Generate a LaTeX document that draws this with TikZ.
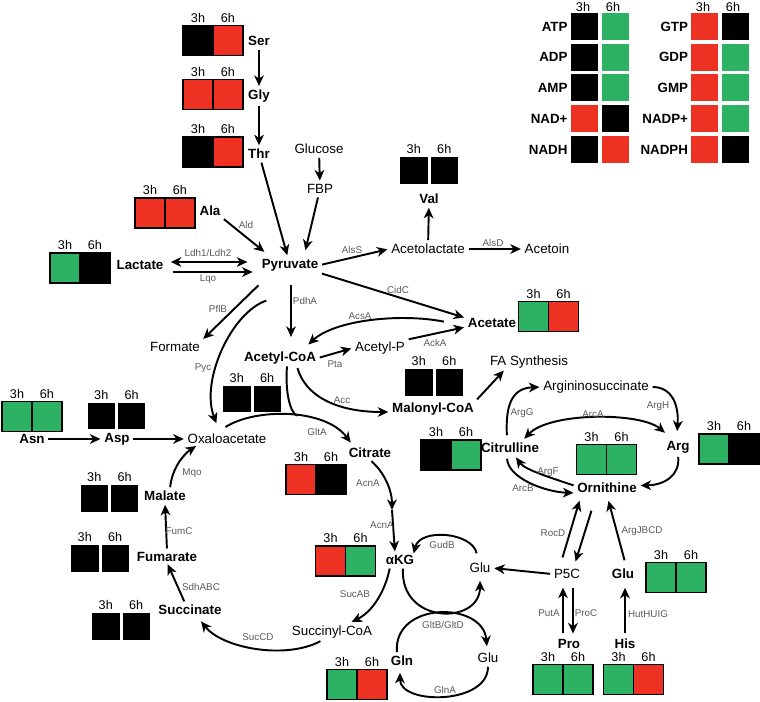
\documentclass[tikz,border=0pt]{standalone}
\usepackage{fontspec}
\setmainfont{Liberation Sans}
\usetikzlibrary{arrows.meta, calc, positioning}

\definecolor{hred}{RGB}{237,50,36}
\definecolor{hgreen}{RGB}{44,178,98}
\definecolor{enzgray}{RGB}{90,90,90}

\tikzset{
  met/.style={font=\fontsize{7.6}{9}\selectfont\bfseries, inner sep=1pt},
  metr/.style={font=\fontsize{7.6}{9}\selectfont, inner sep=1pt},
  enz/.style={font=\fontsize{5.6}{6.5}\selectfont, text=enzgray, inner sep=0.5pt},
  tlab/.style={font=\fontsize{7.2}{8}\selectfont, inner sep=1pt},
  cell/.style={draw=black, line width=1pt, minimum width=0.6cm, minimum height=0.6cm, inner sep=0pt, outer sep=0pt},
  splitcell/.style={minimum width=0.55cm, minimum height=0.54cm, inner sep=0pt, outer xsep=0.03cm, outer ysep=0pt},
  ncell/.style={minimum size=0.54cm, inner sep=0pt, outer sep=0pt},
  rxn/.style={->, line width=1.1pt, shorten >=1pt, shorten <=1pt},
}

% two-cell heat box: [style]{name}{(divider point)}{3h colour}{6h colour}
\newcommand{\heatpair}[5][cell]{%
  \node[#1, fill=#4, anchor=east] (#2-3h) at #3 {};
  \node[#1, fill=#5, anchor=west] (#2-6h) at #3 {};
  \node[tlab, above=0.5pt of #2-3h] (#2-t3) {3h};
  \node[tlab, above=0.5pt of #2-6h] (#2-t6) {6h};}

\begin{document}
\begin{tikzpicture}[x=0.02cm, y=-0.02cm, >={Stealth[length=6pt,width=5.5pt,inset=1.8pt]}]
  \useasboundingbox (0,0) rectangle (760,702);

  % Nucleotide table
  \node[tlab] (nh1) at (583,7) {3h};
  \node[tlab] (nh2) at (613,7) {6h};
  \node[tlab] (nh3) at (703,7) {3h};
  \node[tlab] (nh4) at (733,7) {6h};
  \foreach \lab/\ca/\cb [count=\i] in {ATP/black/hgreen, ADP/black/hgreen, AMP/black/hgreen, NAD+/hred/black, NADH/black/hred} {
    \node[ncell, fill=\ca] (na\i) at (584,{26.5+30.75*(\i-1)}) {};
    \node[ncell, fill=\cb] (nb\i) at (615,{26.5+30.75*(\i-1)}) {};
    \node[met, left=0.5pt of na\i] (nl\i) {\lab};
  }
  \foreach \lab/\ca/\cb [count=\i] in {GTP/hred/black, GDP/hred/hgreen, GMP/hred/hgreen, NADP+/hred/hgreen, NADPH/hred/black} {
    \node[ncell, fill=\ca] (ga\i) at (704.5,{26.5+30.75*(\i-1)}) {};
    \node[ncell, fill=\cb] (gb\i) at (735.5,{26.5+30.75*(\i-1)}) {};
    \node[met, left=0.5pt of ga\i] (gl\i) {\lab};
  }

  % Metabolites
  \node[met] (ser) at (259,41) {Ser};
  \node[met] (gly) at (259,96) {Gly};
  \node[met] (thr) at (259,154) {Thr};
  \node[metr] (glc) at (319,149) {Glucose};
  \node[metr] (fbp) at (320,189) {FBP};
  \node[met] (ala) at (210,211) {Ala};
  \node[met] (val) at (429,199) {Val};
  \node[met] (pyr) at (290,265) {Pyruvate};
  \node[met] (lac) at (140,265) {Lactate};
  \node[metr] (acl) at (428,249) {Acetolactate};
  \node[metr] (acn) at (547,249) {Acetoin};
  \node[met] (ace) at (492,323) {Acetate};
  \node[metr] (frm) at (175,347) {Formate};
  \node[met] (acoa) at (280,358) {Acetyl-CoA};
  \node[metr] (acp) at (380,348) {Acetyl-P};
  \node[met] (mal) at (433,409) {Malonyl-CoA};
  \node[metr] (fas) at (529,362) {FA Synthesis};
  \node[met] (asn) at (32,439) {Asn};
  \node[met] (asp) at (117,439) {Asp};
  \node[metr] (oaa) at (227,439) {Oxaloacetate};
  \node[met] (cit) at (370,453) {Citrate};
  \node[met] (malt) at (165,496) {Malate};
  \node[met] (fum) at (167,557) {Fumarate};
  \node[met] (suc) at (190,610) {Succinate};
  \node[metr] (scoa) at (332,632) {Succinyl-CoA};
  \node[met] (akg) at (400,560) {αKG};
  \node[metr] (glu1) at (480,568) {Glu};
  \node[metr] (glu2) at (488,658) {Glu};
  \node[met] (gln) at (402,661) {Gln};
  \node[metr] (asuc) at (596,387) {Argininosuccinate};
  \node[met] (ctl) at (510,448) {Citrulline};
  \node[met] (arg) at (678,447) {Arg};
  \node[met] (orn) at (607,488) {Ornithine};
  \node[metr] (p5c) at (567,574) {P5C};
  \node[met] (glu3) at (623,574) {Glu};
  \node[met] (pro) at (569,644) {Pro};
  \node[met] (his) at (625,644) {His};

  % Heat boxes
  \heatpair{ser}{(213,40.5)}{black}{hred}
  \heatpair{gly}{(213,94.5)}{hred}{hred}
  \heatpair{thr}{(213,152)}{black}{hred}
  \heatpair{ala}{(165,213)}{hred}{hred}
  \heatpair[splitcell]{val}{(429,170.5)}{black}{black}
  \heatpair{lac}{(80,268)}{hgreen}{black}
  \heatpair{ace}{(548.5,316.5)}{hgreen}{hred}
  \heatpair[splitcell]{acoa}{(252,399)}{black}{black}
  \heatpair[splitcell]{mal}{(434,382.5)}{black}{black}
  \heatpair{asn}{(32,416.5)}{hgreen}{hgreen}
  \heatpair[splitcell]{asp}{(116.5,416)}{black}{black}
  \heatpair{cit}{(316,479.5)}{hred}{black}
  \heatpair{ctl}{(451,455)}{black}{hgreen}
  \heatpair{orn}{(606.5,459.5)}{hgreen}{hgreen}
  \heatpair{arg}{(729,449)}{hgreen}{black}
  \heatpair[splitcell]{malt}{(109.5,498)}{black}{black}
  \heatpair[splitcell]{fum}{(100,558.5)}{black}{black}
  \heatpair[splitcell]{suc}{(121,626.5)}{black}{black}
  \heatpair{akg}{(345.5,561)}{hred}{hgreen}
  \heatpair{glu}{(676,577.5)}{hgreen}{hgreen}
  \heatpair{gln}{(357,684.5)}{hgreen}{hred}
  \heatpair{pro}{(563,679.5)}{hgreen}{hgreen}
  \heatpair{his}{(633.5,679.5)}{hgreen}{hred}

  % Feeders into pyruvate
  \draw[rxn] (ser) -- (gly);
  \draw[rxn] (gly) -- (thr);
  \draw[rxn] (glc) -- (fbp);
  \draw[rxn] (thr) -- (pyr);
  \draw[rxn] (fbp) -- ([xshift=0.3cm,yshift=0.1cm]pyr.north);
  \draw[rxn] (ala.south east) -- ([xshift=0.12cm,yshift=0.08cm]pyr.north west);
  \draw[rxn, <->, shorten <=3pt, shorten >=7pt] ([yshift=0.06cm]lac.east) -- ([yshift=0.06cm]pyr.west);
  \draw[rxn, shorten <=4.5pt, shorten >=4pt] ([yshift=-0.14cm]lac.east) -- ([yshift=-0.14cm]pyr.west);

  % Pyruvate branches
  \draw[rxn] (pyr.east) -- (acl.west);
  \draw[rxn] (acl) -- (val);
  \draw[rxn] (acl) -- (acn);
  \draw[rxn] (pyr.south east) -- ([yshift=0.1cm]ace.west);
  \draw[rxn] ([yshift=-0.22cm]pyr.south west) -- (frm.north east);
  \draw[rxn] ($(pyr.south)+(1,10)$) -- ($(acoa.north)+(11,-11)$);
  \draw[rxn] ($(pyr.south)+(-22,27)$) .. controls (232,312) and (200,380) .. ($(oaa.north)+(-10,-7)$);

  % Acetyl-CoA branches
  \draw[rxn] (acoa.east) -- (acp.west);
  \draw[rxn] (acp.north east) -- ([yshift=-0.08cm]ace.west);
  \draw[rxn] ($(ace.west)+(-20,-1)$) .. controls (400,313) and (335,320) .. ($(acoa.north)+(27,-4)$);
  \draw[rxn] ($(acoa.south)+(17,0)$) .. controls (305,395) and (335,412) .. ([yshift=-0.06cm]mal.west);
  \draw[rxn] (mal.north east) -- ($(fas.south)+(-24,-1)$);

  % TCA cycle
  \draw[rxn] ($(oaa.north)+(-3,-4)$) .. controls (255,408) and (325,408) .. coordinate[pos=0.55] (gltJoin) ($(cit.north west)+(5,-2)$);
  \draw[line width=1.1pt] ($(acoa.south)+(7,0)$) .. controls (285,392) and (290,412) .. (gltJoin);
  \coordinate (acnMid) at (392,510);
  \draw[rxn, shorten >=0pt] (cit.south) .. controls (384,472) and (392,490) .. (acnMid);
  \draw[rxn, shorten <=0pt] (acnMid) -- ($(akg.north)+(-5,0)$);
  \draw[rxn] ($(akg.south)+(-10,0)$) .. controls (385,592) and (372,612) .. ($(scoa.north)+(18,-1)$);
  \draw[rxn] ($(scoa.south)+(-10,0)$) .. controls (285,660) and (222,648) .. ($(suc.south)+(10,3)$);
  \draw[rxn] ($(suc.north)+(-5,0)$) -- ($(fum.south)+(0,-1)$);
  \draw[rxn] (fum.north) -- (malt.south);
  \draw[rxn] ($(malt.north)+(5,0)$) .. controls (172,468) and (184,454) .. ($(oaa.south west)+(12,-1)$);
  \draw[rxn] (asn) -- (asp);
  \draw[rxn] (asp) -- (oaa);

  % Glu / Gln loops
  \draw[rxn] ($(glu1.north)+(-3,-6)$) .. controls (472,532) and (420,528) .. ($(akg.north east)+(-3,2)$);
  \draw[rxn] ($(akg.south)+(3,0)$) .. controls (400,625) and (480,625) .. ($(glu1.south)+(0,4)$);
  \draw[rxn] ($(gln.north)+(-5,0)$) .. controls (393,601) and (483,601) .. ($(glu2.north)+(-1,-3)$);
  \draw[rxn] (glu2.south) .. controls (488,705) and (400,705) .. ($(gln.south)+(-2,3)$);
  \draw[rxn] (p5c.west) -- (glu1.east);

  % Urea cycle
  \draw[rxn] ($(ctl.north)+(-3,-4)$) .. controls (505,400) and (515,388) .. (asuc.west);
  \draw[rxn] (asuc.east) .. controls (672,387) and (679,405) .. ($(arg.north)+(-1,-6)$);
  \draw[rxn, <->] ($(ctl.north)+(13,-1)$) .. controls (550,412) and (640,412) .. ($(arg.north west)+(2,-5)$);
  \draw[rxn] (arg.south) .. controls (680,475) and (665,485) .. ([yshift=0.05cm]orn.east);
  \draw[rxn] ($(orn.west)+(0,-2)$) .. controls (552,478) and (525,470) .. ($(ctl.south)+(5,1)$);
  \draw[rxn] ($(ctl.south)+(-3,2)$) .. controls (508,478) and (545,492) .. ($(orn.west)+(0,5)$);
  \draw[rxn] ($(p5c.north)+(-5,-8)$) -- ($(orn.south)+(-27,4)$);
  \draw[rxn] ($(orn.south)+(-15,14)$) -- ($(p5c.north)+(8,-4)$);
  \draw[rxn] ($(glu3.north)+(2,-5)$) -- ($(orn.south)+(1,4)$);
  \draw[rxn] ($(pro.north)+(-6,-2)$) -- ($(p5c.south)+(-4,5)$);
  \draw[rxn] ($(p5c.south)+(6,5)$) -- ($(pro.north)+(4,-2)$);
  \draw[rxn] ($(his.north)+(0,-2)$) -- ($(glu3.south)+(2,5)$);

  % Enzymes
  \node[enz] (eAld) at (246,225) {Ald};
  \node[enz] (eLdh) at (208,253) {Ldh1/Ldh2};
  \node[enz] (eLqo) at (208,279) {Lqo};
  \node[enz] (eAlsS) at (352,250) {AlsS};
  \node[enz] (eAlsD) at (493,243) {AlsD};
  \node[enz] (eCidC) at (398,290) {CidC};
  \node[enz] (ePflB) at (218,309) {PflB};
  \node[enz] (ePdhA) at (305,301) {PdhA};
  \node[enz] (ePyc) at (203,368) {Pyc};
  \node[enz] (eAcsA) at (360,316) {AcsA};
  \node[enz] (ePta) at (335,364) {Pta};
  \node[enz] (eAckA) at (435,343) {AckA};
  \node[enz] (eAcc) at (342,400) {Acc};
  \node[enz] (eGltA) at (317,432) {GltA};
  \node[enz] (eAcnA1) at (368,483) {AcnA};
  \node[enz] (eAcnA2) at (382,525) {AcnA};
  \node[enz] (eGudB) at (442,545) {GudB};
  \node[enz] (eSucAB) at (355,594) {SucAB};
  \node[enz] (eSucCD) at (258,637) {SucCD};
  \node[enz] (eSdh) at (201,587) {SdhABC};
  \node[enz] (eFumC) at (179,531) {FumC};
  \node[enz] (eMqo) at (192,473) {Mqo};
  \node[enz] (eGltB) at (443,625) {GltB/GltD};
  \node[enz] (eGlnA) at (445,690) {GlnA};
  \node[enz] (eArgG) at (522,413) {ArgG};
  \node[enz] (eArgH) at (658,406) {ArgH};
  \node[enz] (eArcA) at (593,414) {ArcA};
  \node[enz] (eArgF) at (548,472) {ArgF};
  \node[enz] (eArcB) at (523,488) {ArcB};
  \node[enz] (eRocD) at (553,533) {RocD};
  \node[enz] (eArgJ) at (642,531) {ArgJBCD};
  \node[enz] (ePutA) at (549,613) {PutA};
  \node[enz] (eProC) at (586,613) {ProC};
  \node[enz] (eHut) at (648,614) {HutHUIG};
\end{tikzpicture}
\end{document}
